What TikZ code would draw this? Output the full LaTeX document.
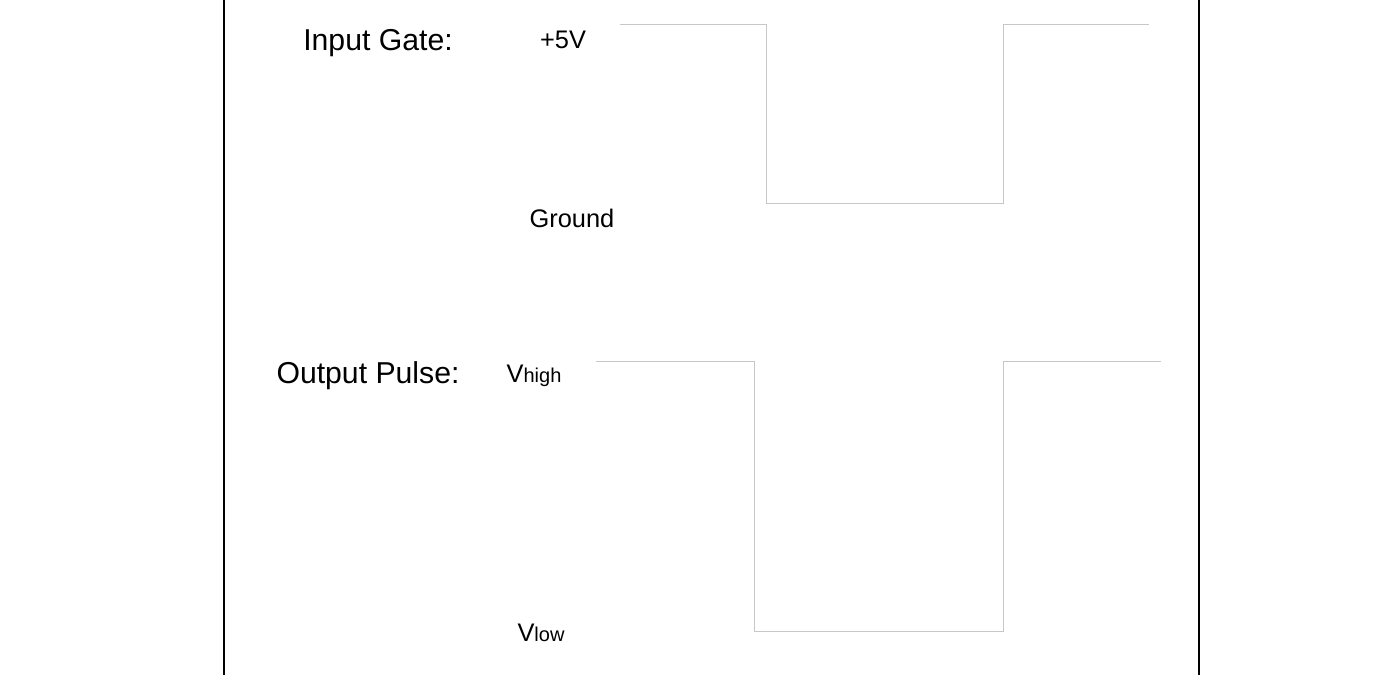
\documentclass[tikz,border=0pt]{standalone}
\usepackage{fontspec}
\setmainfont{Liberation Sans}
\begin{document}
\begin{tikzpicture}[x=0.5pt,y=-0.5pt,
  wave/.style={draw=black!22,line width=0.45pt},
  frame/.style={draw=black,line width=1.4pt},
  big/.style={font=\fontsize{15.1}{18}\selectfont,inner sep=0},
  lab/.style={font=\fontsize{12.7}{15}\selectfont,inner sep=0}]
\useasboundingbox (0,0) rectangle (1375,675);
\coordinate (fl1) at (224,0); \coordinate (fl2) at (224,675);
\coordinate (fr1) at (1199,0); \coordinate (fr2) at (1199,675);
\draw[frame] (fl1) -- (fl2);
\draw[frame] (fr1) -- (fr2);
\coordinate (i0) at (620,24); \coordinate (i1) at (766,24); \coordinate (i2) at (766,203);
\coordinate (i3) at (1003,203); \coordinate (i4) at (1003,24); \coordinate (i5) at (1149,24);
\draw[wave] (i0) -- (i1) -- (i2) -- (i3) -- (i4) -- (i5);
\coordinate (o0) at (596,361); \coordinate (o1) at (754,361); \coordinate (o2) at (754,631);
\coordinate (o3) at (1003,631); \coordinate (o4) at (1003,361); \coordinate (o5) at (1161,361);
\draw[wave] (o0) -- (o1) -- (o2) -- (o3) -- (o4) -- (o5);
\node[big] (ig) at (378,43) {Input Gate:};
\node[lab] (p5) at (563,40) {+5V};
\node[lab] (gnd) at (572,218) {Ground};
\node[big] (op) at (368,376) {Output Pulse:};
\node[lab] (vh) at (534,376) {V{\fontsize{10}{12}\selectfont high}};
\node[lab] (vl) at (541,633) {V{\fontsize{10}{12}\selectfont low}};
\end{tikzpicture}
\end{document}
